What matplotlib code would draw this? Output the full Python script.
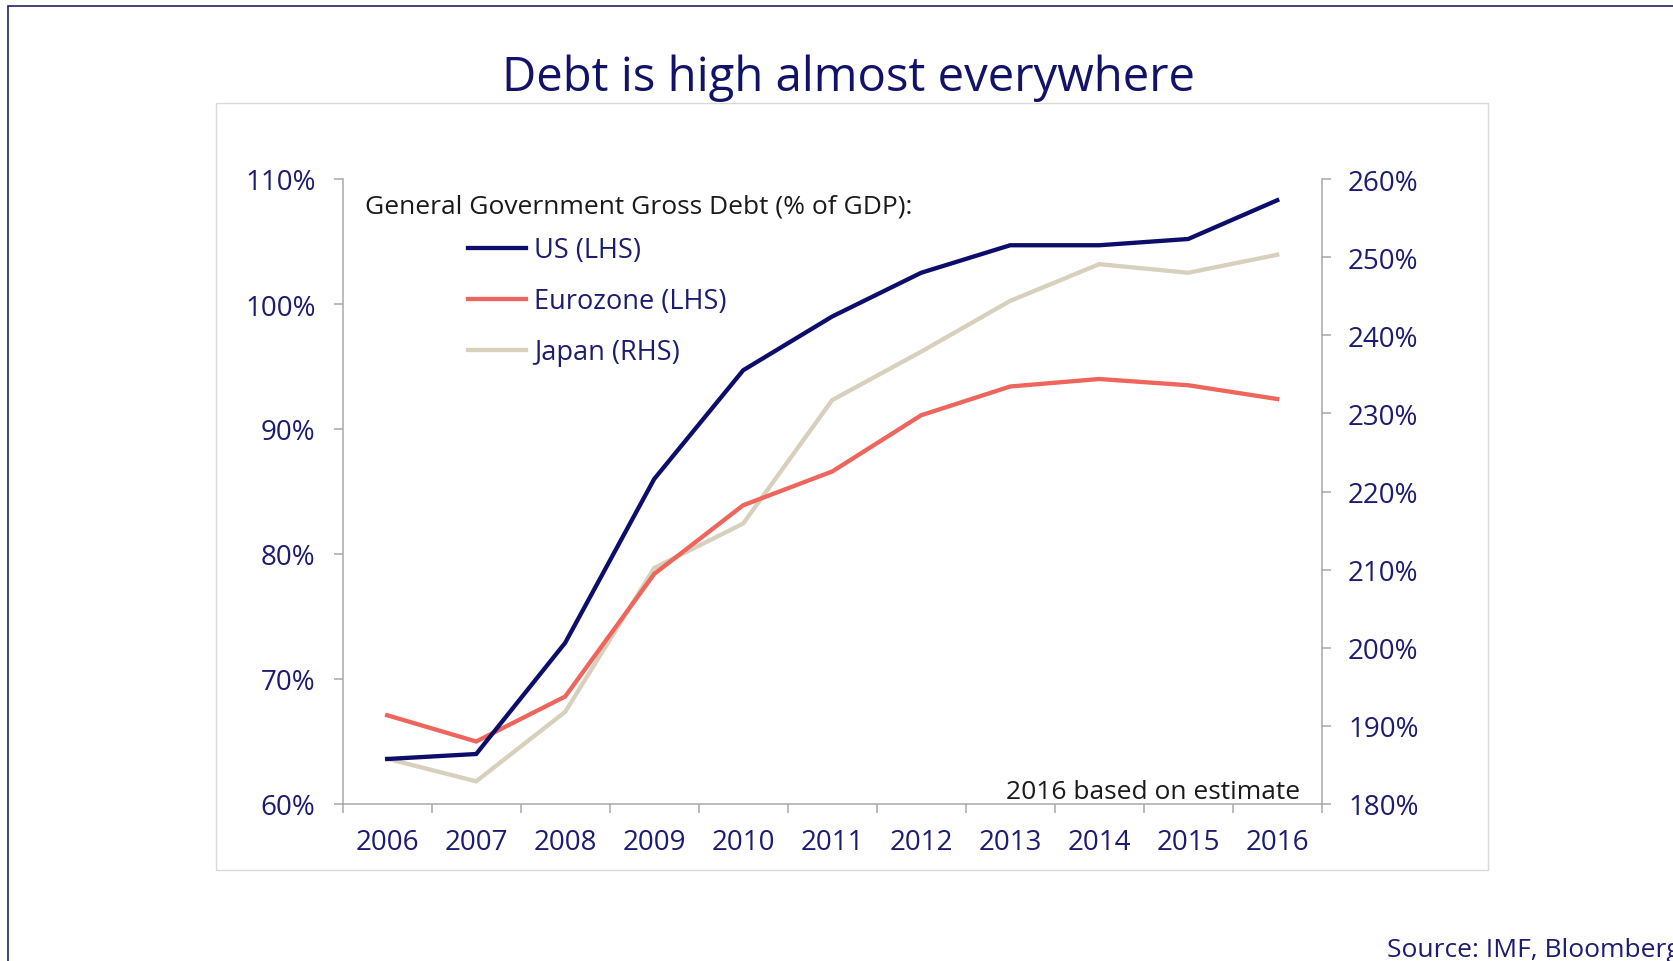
import numpy as np
import matplotlib
matplotlib.use("Agg")
import matplotlib.pyplot as plt
from matplotlib.patches import Rectangle
from matplotlib.lines import Line2D

plt.rcParams['font.family'] = ['Open Sans', 'DejaVu Sans']

# General government gross debt, % of GDP (IMF)
years = ['2006', '2007', '2008', '2009', '2010', '2011',
         '2012', '2013', '2014', '2015', '2016']
us = [63.6, 64.0, 72.9, 86.0, 94.7, 99.0, 102.5, 104.7, 104.7, 105.2, 108.3]
eurozone = [67.1, 65.0, 68.6, 78.4, 83.9, 86.6, 91.1, 93.4, 94.0, 93.5, 92.4]
japan = [185.8, 182.9, 191.8, 210.2, 215.9, 231.7, 237.9, 244.4, 249.1, 248.0, 250.3]

lhs_ticks = [60, 70, 80, 90, 100, 110]
rhs_ticks = [180, 190, 200, 210, 220, 230, 240, 250, 260]

navy = '#0d0d6b'
label_col = '#1c1c70'
red = '#ee655b'
beige = '#d7d0bd'
grey = '#a8a8a8'

W, H = 1674, 962
fig = plt.figure(figsize=(W / 100, H / 100), dpi=100)
fig.patch.set_facecolor('white')

# slide frame and chart box
fig.patches.append(Rectangle((8.5 / W, -0.1), 1.2, 1 - 6.7 / H + 0.1,
                             transform=fig.transFigure, fill=False,
                             edgecolor='#1f2466', lw=1.2, zorder=-1))
fig.patches.append(Rectangle((215.7 / W, 1 - 871 / H), (1488 - 215.7) / W,
                             (871 - 103.6) / H, transform=fig.transFigure,
                             fill=False, edgecolor='#d9d9d9', lw=1.0,
                             zorder=-1))

fig.text(0.507, 1 - 91 / H, 'Debt is high almost everywhere', ha='center',
         va='baseline', fontsize=34, color='#121268')

ax = fig.add_axes([342.7 / W, 1 - 805 / H, (1321.7 - 342.7) / W, 625 / H])
ax2 = ax.twinx()
ax.set_zorder(ax2.get_zorder() + 1)
ax.patch.set_visible(False)

x = np.arange(len(years))
ln_jp, = ax2.plot(x, japan, color=beige, lw=3.1, solid_joinstyle='miter')
ln_eu, = ax.plot(x, eurozone, color=red, lw=3.1, solid_joinstyle='miter')
ln_us, = ax.plot(x, us, color=navy, lw=3.1, solid_joinstyle='miter')

ax.set_xlim(-0.5, len(years) - 0.5)
ax.set_ylim(60, 110)
ax2.set_ylim(180, 260)

ax.set_xticks(x)
ax.set_xticklabels(years)
ax.set_xticks(np.arange(-0.5, len(years)), minor=True)
ax.tick_params(axis='x', which='major', length=0, pad=17.5,
               labelsize=20, labelcolor=label_col)
ax.tick_params(axis='x', which='minor', length=6.5, width=1.1, color=grey)

ax.set_yticks(lhs_ticks)
ax.set_yticklabels([f'{v}%' for v in lhs_ticks])
ax.tick_params(axis='y', length=6.5, width=1.1, color=grey, pad=13,
               labelsize=20, labelcolor=label_col)
ax2.set_yticks(rhs_ticks)
ax2.set_yticklabels([f'{v}%' for v in rhs_ticks])
ax2.tick_params(axis='y', length=6.5, width=1.1, color=grey, pad=12.5,
                labelsize=20, labelcolor=label_col)
for lab in ax.get_yticklabels() + ax2.get_yticklabels():
    lab.set_y(lab.get_position()[1])

for a in (ax, ax2):
    for s in a.spines.values():
        s.set_color(grey)
        s.set_linewidth(1.1)
    a.spines['top'].set_visible(False)
ax.spines['right'].set_visible(False)
ax2.spines['left'].set_visible(False)
ax2.spines['bottom'].set_visible(False)

ax.text(0.0228, 0.9456, 'General Government Gross Debt (% of GDP):',
        transform=ax.transAxes, fontsize=19, color='#1a1a1a', va='baseline')
handles = [Line2D([], [], color=navy, lw=3.1),
           Line2D([], [], color=red, lw=3.1),
           Line2D([], [], color=beige, lw=3.1)]
ax.legend(handles, ['US (LHS)', 'Eurozone (LHS)', 'Japan (RHS)'],
          loc='upper left', bbox_to_anchor=(0.128, 0.908), frameon=False,
          fontsize=19.5, labelcolor=label_col, handlelength=2.15,
          handletextpad=0.3, labelspacing=0.84, borderpad=0, borderaxespad=0)

ax.text(0.978, 0.0096, '2016 based on estimate', transform=ax.transAxes,
        ha='right', va='baseline', fontsize=19, color='#1a1a1a')

fig.text(1387 / W, 1 - 957 / H, 'Source: IMF, Bloomberg', ha='left',
         va='baseline', fontsize=19, color=label_col)

fig.savefig('out.png', dpi=100)
